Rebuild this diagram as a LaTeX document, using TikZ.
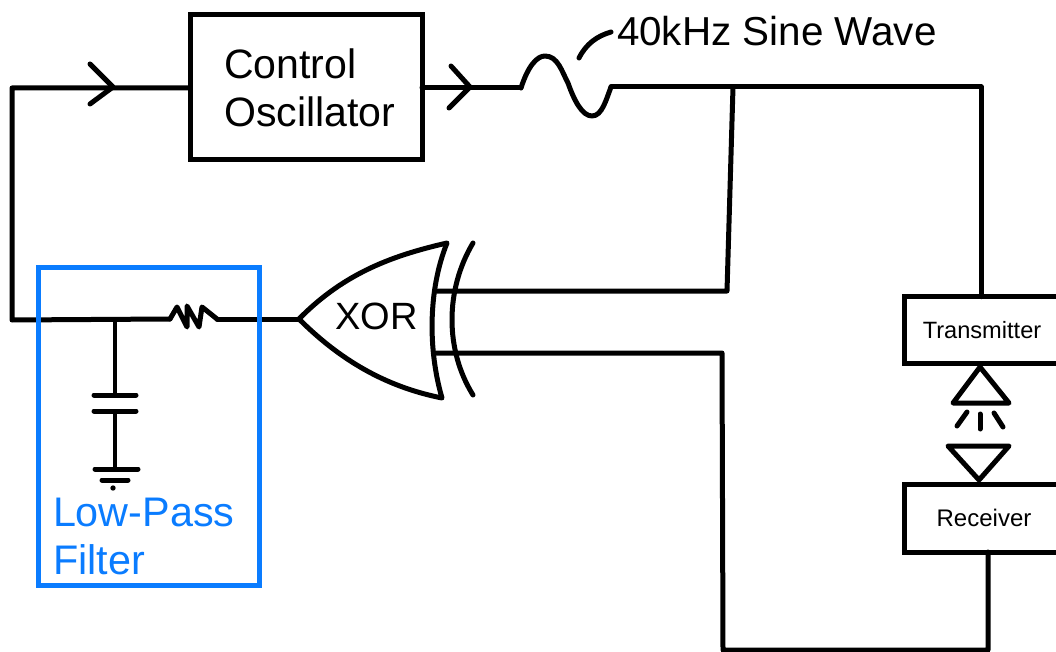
\documentclass[tikz,border=0pt]{standalone}
\usepackage{fontspec}
\setmainfont{Liberation Sans}
\definecolor{lpblue}{HTML}{0A7CFF}
\tikzset{
  wire/.style={line width=3.75pt,line join=round,line cap=round,black},
  thinwire/.style={line width=3pt,line join=round,line cap=round,black},
  block/.style={draw=black,line width=3.75pt,inner sep=0pt,outer sep=0pt,fill=none,line join=miter},
  bigtext/.style={font=\fontsize{30.8}{36}\selectfont,align=left,inner sep=0pt,outer sep=0pt},
  smalltext/.style={inner sep=0pt,outer sep=0pt},
}
\begin{document}
\begin{tikzpicture}[x=0.75pt,y=-0.75pt]
\useasboundingbox (0,0) rectangle (1056,652);
\clip (0,0) rectangle (1056,652);
% blocks
\node[block,bigtext,minimum width=174pt,minimum height=108.75pt] (osc) at (306,87.5) {\hspace*{5.5pt}Control\\\hspace*{5.5pt}Oscillator};
\node[block,smalltext,font=\fontsize{17.7}{21}\selectfont,minimum width=117pt,minimum height=50pt] (tx) at (982,330) {Transmitter};
\node[block,smalltext,font=\fontsize{18}{21}\selectfont,minimum width=119pt,minimum height=51pt] (rx) at (984,518) {Receiver};
% named points
\coordinate (tl) at (12,88);
\coordinate (bl) at (12,320);
\coordinate (capj) at (115,320);
\coordinate (rin) at (170,319);
\coordinate (rout) at (217,319);
\coordinate (tip) at (299,319);
\coordinate (gtop) at (447,243);
\coordinate (gbot) at (442,398);
\coordinate (ain) at (435,291);
\coordinate (bin) at (434,353);
\coordinate (sinein) at (521,88);
\coordinate (sineout) at (611,87);
\coordinate (tap) at (733,87);
\coordinate (atap) at (727,291);
\coordinate (corner) at (981,87);
\coordinate (bcorner) at (722,353);
\coordinate (blow) at (723,650);
\coordinate (rlow) at (988,650);
% feedback wires
\draw[wire] (osc.west |- tl) -- (tl) -- (bl) -- (rin);
\draw[wire] (rout) -- (tip);
\draw[wire] (rin) -- (177,307) -- (187,327) -- (187,306) -- (199,327) -- (202,307) -- (rout);
\draw[wire] (osc.east |- sinein) -- (sinein);
% sine
\draw[wire] (sinein) .. controls (528,66) and (537,56) .. (545,56)
  .. controls (558,56) and (562,72) .. (568,83)
  .. controls (574,100) and (582,116) .. (592,116)
  .. controls (602,116) and (606,100) .. (sineout);
\draw[wire] (579,58) .. controls (586,44) and (597,36) .. (611,32);
\draw[wire] (sineout) -- (corner) -- (corner |- tx.north);
\draw[wire] (tap) -- (atap) -- (ain);
\draw[wire] (bin) -- (bcorner) -- (blow) -- (rlow) -- (rlow |- rx.south);
% chevrons
\draw[wire] (90,64) -- (113,87) -- (90,104);
\draw[wire] (451,66) -- (470,87) -- (449,108);
% XOR gate
\draw[wire] (tip) .. controls (345,272) and (395,255) .. (gtop)
  .. controls (428,290) and (428,350) .. (gbot)
  .. controls (392,388) and (345,365) .. (tip);
\draw[wire] (473,243) .. controls (445,290) and (445,350) .. (473,395);
\node[bigtext,font=\fontsize{28.5}{34}\selectfont] (xor) at (376.5,316) {XOR};
% capacitor
\coordinate (p1) at (115,395);
\coordinate (p2) at (115,411);
\coordinate (g1) at (115,469);
\draw[thinwire] (capj) -- (p1);
\draw[wire] (94,395) -- (136,395);
\draw[wire] (94,411) -- (136,411);
\draw[thinwire] (p2) -- (g1);
\draw[wire] (95,469) -- (138,469);
\draw[wire] (102,480) -- (128,480);
\fill (113,488) circle (2pt);
% optical link
\draw[wire] (980,367) -- (953,403) -- (1009,403) -- cycle;
\draw[wire] (957,426) -- (967,412);
\draw[wire] (980,414) -- (980,429);
\draw[wire] (994,413) -- (1003,427);
\draw[wire] (948,446) -- (1009,446) -- (979,480) -- cycle;
% low pass filter
\node[draw=lpblue,line width=3.75pt,minimum width=165.75pt,minimum height=237.75pt,inner sep=0pt,outer sep=0pt] (lpf) at (148.5,426.5) {};
\node[bigtext,font=\fontsize{31}{36}\selectfont,text=lpblue,anchor=north west] (lpft) at (53,498) {Low-Pass\\Filter};
\node[bigtext,font=\fontsize{30.3}{36}\selectfont,anchor=base west] (sine) at (617,46) {40kHz Sine Wave};
\end{tikzpicture}
\end{document}
